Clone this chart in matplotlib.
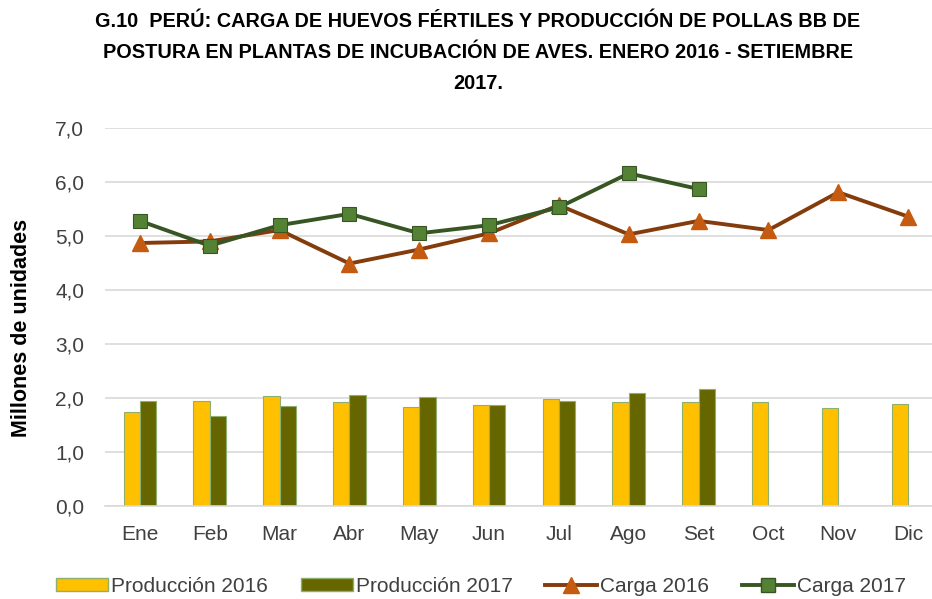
import matplotlib
matplotlib.use("Agg")
from matplotlib import pyplot as plt
from matplotlib.patches import Patch
from matplotlib.lines import Line2D
import numpy as np

plt.rcParams["font.family"] = ["Liberation Sans", "DejaVu Sans"]

meses = ["Ene", "Feb", "Mar", "Abr", "May", "Jun", "Jul", "Ago", "Set", "Oct", "Nov", "Dic"]

produccion_2016 = [1.75, 1.95, 2.03, 1.93, 1.84, 1.87, 1.99, 1.93, 1.93, 1.93, 1.82, 1.88]
produccion_2017 = [1.94, 1.66, 1.85, 2.06, 2.01, 1.87, 1.94, 2.10, 2.17]
carga_2016 = [4.87, 4.90, 5.11, 4.49, 4.75, 5.05, 5.57, 5.03, 5.28, 5.11, 5.81, 5.36]
carga_2017 = [5.28, 4.82, 5.20, 5.41, 5.05, 5.20, 5.53, 6.16, 5.87]

y_ticks = [0, 1, 2, 3, 4, 5, 6, 7]

titulo = ("G.10  PERÚ: CARGA DE HUEVOS FÉRTILES Y PRODUCCIÓN DE POLLAS BB DE\n"
          "POSTURA EN PLANTAS DE INCUBACIÓN DE AVES. ENERO 2016 - SETIEMBRE\n"
          "2017.")

C_P16 = "#FFC000"
C_P17 = "#666600"
C_EDGE = "#8FAF6F"
C_L16 = "#843C0C"
C_M16 = "#C55A11"
C_L17 = "#375623"
C_M17 = "#548235"
C_TXT = "#404040"

fig = plt.figure(figsize=(9.32, 5.99), dpi=100)
W, H = 932, 599
ax = fig.add_axes([105 / W, 1 - 506 / H, (943 - 105) / W, (506 - 128) / H])

x = np.arange(len(meses))
BW = 0.235
ax.bar(x - BW / 2, produccion_2016, width=BW, color=C_P16, edgecolor=C_EDGE, linewidth=0.8, zorder=2)
x17 = np.arange(len(produccion_2017))
ax.bar(x17 + BW / 2, produccion_2017, width=BW, color=C_P17, edgecolor=C_EDGE, linewidth=0.8, zorder=2)

ax.plot(x, carga_2016, color=C_L16, linewidth=2.8, marker="^", markersize=11,
        markerfacecolor=C_M16, markeredgecolor=C_M16, zorder=3)
ax.plot(x17, carga_2017, color=C_L17, linewidth=2.8, marker="s", markersize=10,
        markerfacecolor=C_M17, markeredgecolor=C_L17, markeredgewidth=0.8, zorder=4)

ax.set_xlim(-0.5, 11.5)
ax.set_ylim(0, 7)
ax.set_yticks(y_ticks)
ax.set_yticklabels(["{:.1f}".format(v).replace(".", ",") for v in y_ticks],
                   fontsize=15, color=C_TXT)
ax.set_xticks(x)
ax.set_xticklabels(meses, fontsize=15, color=C_TXT)
ax.tick_params(axis="both", length=0)
ax.tick_params(axis="y", pad=15)
ax.tick_params(axis="x", pad=14)
ax.grid(axis="y", color="#D9D9D9", linewidth=1.2, zorder=0)
ax.set_axisbelow(True)
for s in ["top", "right", "left"]:
    ax.spines[s].set_visible(False)
ax.spines["bottom"].set_color("#D9D9D9")
ax.spines["bottom"].set_linewidth(1.2)

fig.text(22 / W, 1 - 328 / H, "Millones de unidades", rotation=90, fontsize=15.5,
         fontweight="bold", ha="center", va="center")
fig.text(478 / W, 1 - 12 / H, titulo, fontsize=14.3, fontweight="bold",
         ha="center", va="top", linespacing=1.8)

handles = [
    Patch(facecolor=C_P16, edgecolor=C_EDGE, label="Producción 2016"),
    Patch(facecolor=C_P17, edgecolor=C_EDGE, label="Producción 2017"),
    Line2D([], [], color=C_L16, linewidth=2.8, marker="^", markersize=11,
           markerfacecolor=C_M16, markeredgecolor=C_M16, label="Carga 2016"),
    Line2D([], [], color=C_L17, linewidth=2.8, marker="s", markersize=10,
           markerfacecolor=C_M17, markeredgecolor=C_L17, label="Carga 2017"),
]
leg = fig.legend(handles=handles, loc="center", bbox_to_anchor=(481 / W, 1 - 586 / H), ncol=4,
                 frameon=False, fontsize=15, handlelength=2.5, handleheight=0.6,
                 handletextpad=0.15, columnspacing=1.55, borderpad=0)
for t in leg.get_texts():
    t.set_color(C_TXT)

fig.savefig("out.png", dpi=100)
